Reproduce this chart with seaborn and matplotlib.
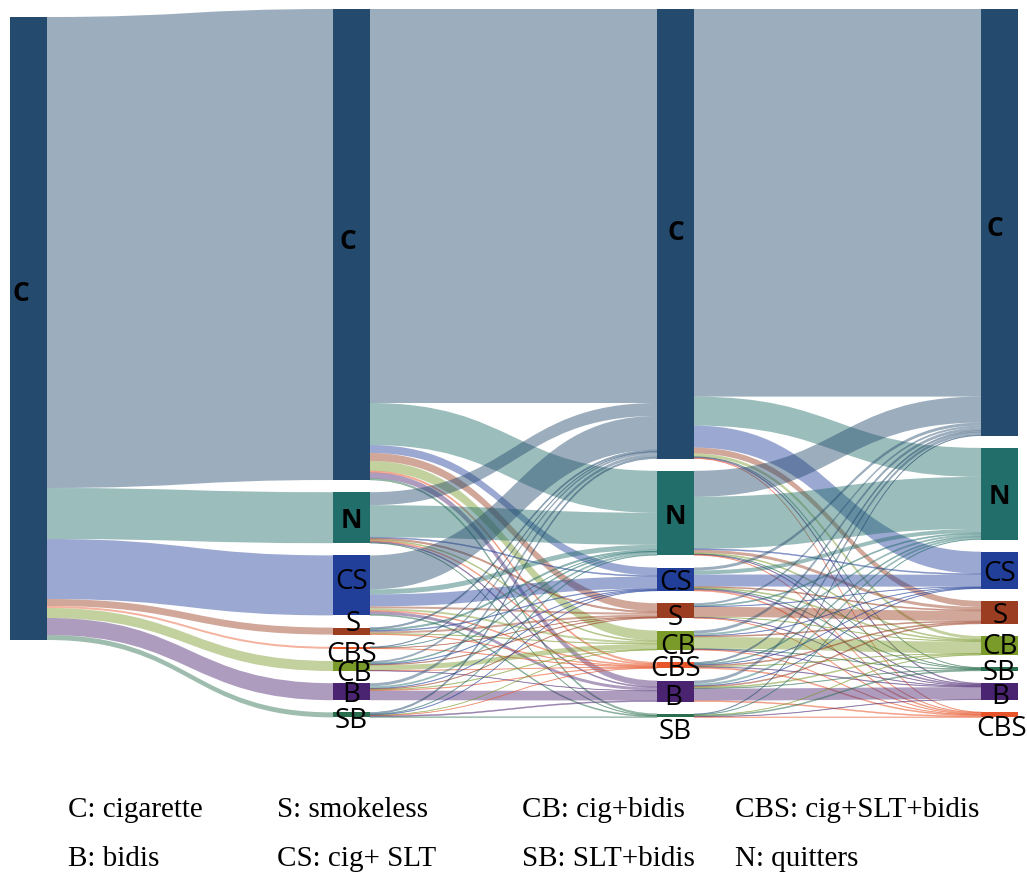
import matplotlib
matplotlib.use("Agg")
import matplotlib.pyplot as plt
from matplotlib.path import Path
from matplotlib.patches import PathPatch, Rectangle
from matplotlib.colors import to_rgba
import pandas as pd
import seaborn as sns

# Tobacco-use states and their colours
states = ["C", "N", "CS", "S", "CBS", "CB", "B", "SB"]
state_hex = ["#244A6E", "#226E6A", "#213F99", "#9A3D20",
             "#E8552A", "#7A9A2A", "#4A2470", "#2A6E4E"]

# Node order (top to bottom) in each wave
wave0_order = ["C"]
wave1_order = ["C", "N", "CS", "S", "CBS", "CB", "B", "SB"]
wave2_order = ["C", "N", "CS", "S", "CB", "CBS", "B", "SB"]
wave3_order = ["C", "N", "CS", "S", "CB", "SB", "B", "CBS"]

# Transitions wave 0 -> wave 1 (rows: wave-0 states, columns: wave-1 states)
flows_01 = [
    [471, 51, 60, 7, 2, 10, 17, 5],
]
# Transitions wave 1 -> wave 2 (rows in wave1_order, columns in wave2_order)
flows_12 = [
    [394, 42, 8, 8, 10, 1.5, 6, 1.5],
    [13, 32, 1, 1.5, 1, 1, 1, 0.5],
    [34, 5, 12, 2, 2, 1, 3, 1],
    [1.5, 1.5, 0.8, 2, 0.6, 0.6, 0, 0],
    [0.6, 0.4, 0, 0.4, 0, 0.6, 0, 0],
    [2, 1, 0.6, 0.6, 5, 0.4, 0.4, 0],
    [3, 2, 0.6, 0.6, 0.6, 0.6, 9.6, 0],
    [1.5, 0.6, 0.5, 0, 0.4, 0.4, 1, 0.6],
]
# Transitions wave 2 -> wave 3 (rows in wave2_order, columns in wave3_order)
flows_23 = [
    [387.6, 29, 22, 6, 3, 0.5, 1, 0.5],
    [26, 52, 1, 3, 1, 0.5, 0.5, 0.5],
    [3, 4, 12, 1, 1, 0.5, 1, 1],
    [2, 1.1, 0.5, 10, 0.5, 0, 0.5, 0.5],
    [3, 2, 0.5, 1, 11.6, 0.5, 0.5, 0.5],
    [1.5, 1, 0.5, 1, 0.5, 0, 0.6, 1],
    [3, 2, 0.5, 1, 1, 0.5, 12, 1],
    [0.6, 0.5, 0, 0, 0.5, 1, 0.5, 0.5],
]

legend_row1 = ["C: cigarette", "S: smokeless", "CB: cig+bidis", "CBS: cig+SLT+bidis"]
legend_row2 = ["B: bidis", "CS: cig+ SLT", "SB: SLT+bidis", "N: quitters"]

# ---------------------------------------------------------------- layout
sns.set_theme(style="white")
palette = dict(zip(states, sns.color_palette(state_hex)))

orders = [wave0_order, wave1_order, wave2_order, wave3_order]
flow_sets = [flows_01, flows_12, flows_23]

links = []
for w, mat in enumerate(flow_sets):
    for i, src in enumerate(orders[w]):
        for j, dst in enumerate(orders[w + 1]):
            v = mat[i][j]
            if v > 0:
                links.append(dict(wave=w, src=src, dst=dst, si=i, di=j, value=v))
links = pd.DataFrame(links)

col_x = [10, 333, 657, 981]
col_top = [17, 9, 9, 9]
node_w = 37
gap = 12.2

# node heights = max(inflow, outflow)
node_size = []
for w, order in enumerate(orders):
    sizes = {}
    for n in order:
        inflow = links[(links.wave == w - 1) & (links.dst == n)].value.sum()
        outflow = links[(links.wave == w) & (links.src == n)].value.sum()
        sizes[n] = max(inflow, outflow)
    node_size.append(sizes)

node_top = []
for w, order in enumerate(orders):
    y = col_top[w]
    tops = {}
    for n in order:
        tops[n] = y
        y += node_size[w][n] + gap
    node_top.append(tops)

fig = plt.figure(figsize=(10.27, 8.77), dpi=100)
ax = fig.add_axes([0, 0, 1, 1])
ax.set_xlim(0, 1027)
ax.set_ylim(877, 0)
ax.axis("off")

# ---------------------------------------------------------------- links
out_off = {}
in_off = {}
links = links.sort_values(["wave", "si", "di"])
src_pos = {}
for r in links.itertuples():
    key = (r.wave, r.src)
    src_pos[(r.wave, r.si, r.di)] = node_top[r.wave][r.src] + out_off.get(key, 0)
    out_off[key] = out_off.get(key, 0) + r.value
dst_pos = {}
for r in links.sort_values(["wave", "di", "si"]).itertuples():
    key = (r.wave + 1, r.dst)
    dst_pos[(r.wave, r.si, r.di)] = node_top[r.wave + 1][r.dst] + in_off.get(key, 0)
    in_off[key] = in_off.get(key, 0) + r.value

for r in links.itertuples():
    x0 = col_x[r.wave] + node_w
    x1 = col_x[r.wave + 1]
    xm = (x0 + x1) / 2
    y0 = src_pos[(r.wave, r.si, r.di)]
    y1 = dst_pos[(r.wave, r.si, r.di)]
    h = r.value
    verts = [(x0, y0), (xm, y0), (xm, y1), (x1, y1),
             (x1, y1 + h), (xm, y1 + h), (xm, y0 + h), (x0, y0 + h), (x0, y0)]
    codes = [Path.MOVETO, Path.CURVE4, Path.CURVE4, Path.CURVE4,
             Path.LINETO, Path.CURVE4, Path.CURVE4, Path.CURVE4, Path.CLOSEPOLY]
    col = to_rgba(palette[r.dst], 0.45)
    ax.add_patch(PathPatch(Path(verts, codes), facecolor=col,
                           edgecolor=col, lw=0.4 if h < 2 else 0))

# ---------------------------------------------------------------- nodes
label_shift = {
    (0, "C"): (-8, -38), (1, "C"): (-4, -6), (1, "CS"): (0, -7),
    (1, "S"): (2, -11), (1, "CBS"): (0, 4), (1, "CB"): (2, 4),
    (1, "SB"): (0, 3), (2, "C"): (0, -4), (2, "S"): (0, 4),
    (2, "CB"): (2, 3), (2, "B"): (-2, 3), (2, "SB"): (0, 13),
    (3, "C"): (-5, 3), (3, "CBS"): (2, 11), (3, "S"): (1, 0),
    (3, "CB"): (1, -2), (3, "B"): (1, 2),
}
for w, order in enumerate(orders):
    for n in order:
        top = node_top[w][n]
        h = node_size[w][n]
        ax.add_patch(Rectangle((col_x[w], top), node_w, max(h, 1.2),
                               facecolor=palette[n], edgecolor="none", zorder=3))
        dx, dy = label_shift.get((w, n), (0, 0))
        bold = n in ("C", "N")
        ax.text(col_x[w] + node_w / 2 + dx, top + h / 2 + dy, n,
                ha="center", va="center_baseline",
                fontsize=19 if bold else 20,
                fontweight="bold" if bold else "normal",
                family=["Open Sans", "DejaVu Sans"], color="black", zorder=4)

# ---------------------------------------------------------------- legend text
legend_x = [68, 277, 522, 735]
for row, base in ((legend_row1, 817), (legend_row2, 866)):
    for x, t in zip(legend_x, row):
        ax.text(x, base, t, ha="left", va="baseline", fontsize=21,
                family=["Liberation Serif", "DejaVu Serif"], color="black")

fig.savefig("out.png", dpi=100, facecolor="white")
